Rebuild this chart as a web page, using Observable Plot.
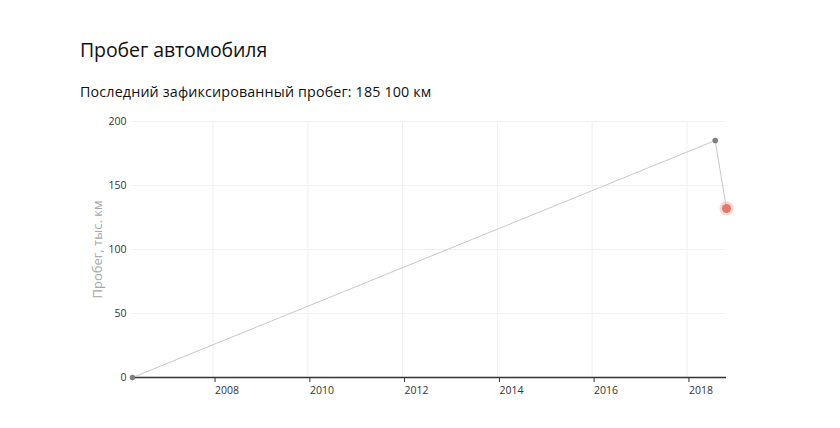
<!DOCTYPE html>
<html>
<head>
<meta charset="utf-8">
<script src="https://cdn.jsdelivr.net/npm/d3@7"></script>
<script src="https://cdn.jsdelivr.net/npm/@observablehq/plot@0.6"></script>
<style>
  body { margin: 0; background: #fff; font-family: "Open Sans", sans-serif; }
  #wrap { position: relative; width: 840px; height: 428px; }
  #title { position: absolute; left: 80px; top: 40px; font-size: 19.5px; line-height: 20px; color: #111; white-space: nowrap; letter-spacing: -0.1px; }
  #subtitle { position: absolute; left: 80px; top: 85px; font-size: 14.3px; line-height: 14px; color: #111; white-space: nowrap; letter-spacing: 0.15px; }
  #chart { position: absolute; left: 0; top: 110px; }
</style>
</head>
<body>
<div id="wrap">
  <div id="title">Пробег автомобиля</div>
  <div id="subtitle">Последний зафиксированный пробег: 185 100 км</div>
  <div id="chart"></div>
</div>
<script>
const dates = ["2006-04-20", "2018-08-07", "2018-11-02"];
const mileage = [0, 185.1, 132];
const yTicks = [0, 50, 100, 150, 200];
const yLabel = "Пробег, тыс. км";

const data = dates.map((d, i) => ({date: new Date(d), value: mileage[i]}));
const last = data[data.length - 1];
const history = data.slice(0, -1);

const chart = Plot.plot({
  width: 840,
  height: 300,
  marginLeft: 132,
  marginRight: 114,
  marginTop: 11,
  marginBottom: 33,
  style: {fontFamily: "Open Sans, sans-serif", fontSize: "10.5px", color: "#333", background: "transparent"},
  x: {type: "utc", domain: [data[0].date, last.date]},
  y: {domain: [0, 200]},
  marks: [
    Plot.gridX({ticks: d3.utcYear.every(2), stroke: "#efefef", strokeOpacity: 1}),
    Plot.gridY(yTicks, {stroke: "#f0f0f0", strokeOpacity: 1}),
    Plot.axisY(yTicks, {tickSize: 0, tickPadding: 6, label: null, fill: "#333"}),
    Plot.axisX({ticks: d3.utcYear.every(2), tickFormat: d3.utcFormat("%Y"), tickSize: 5, tickPadding: 4, textAnchor: "start", dx: 2, label: null, stroke: "#333", fill: "#333"}),
    Plot.ruleY([0], {stroke: "#333", strokeWidth: 1.5}),
    Plot.line(data, {x: "date", y: "value", stroke: "#c8c8c8", strokeWidth: 1}),
    Plot.dot(history, {x: "date", y: "value", r: 2.8, fill: "#808080"}),
    Plot.dot([last], {x: "date", y: "value", r: 7, fill: "#f2a89c", fillOpacity: 0.45}),
    Plot.dot([last], {x: "date", y: "value", r: 4.5, fill: "#e07a6a"}),
    Plot.text([yLabel], {frameAnchor: "left", text: d => d, rotate: -90, dx: -35, fill: "#a8a8a8", fontSize: 13, textAnchor: "middle", lineAnchor: "middle", letterSpacing: "0.3px"})
  ]
});
document.getElementById("chart").appendChild(chart);
</script>
</body>
</html>
